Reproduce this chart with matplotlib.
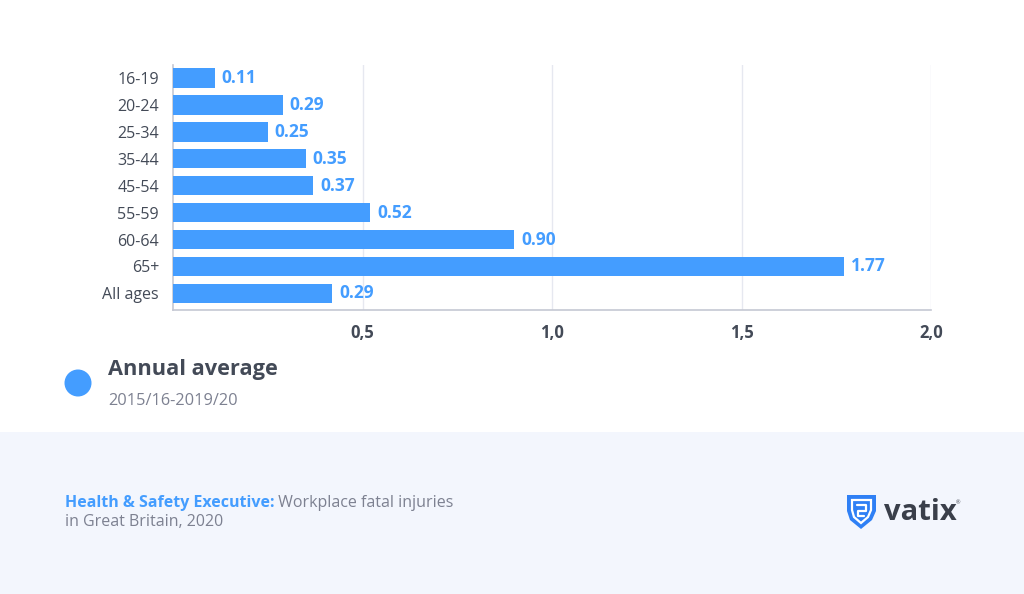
import matplotlib.pyplot as plt
import matplotlib.patches as mpatches
import numpy as np

plt.rcParams['font.family'] = ['Open Sans', 'DejaVu Sans']

# data
age_groups = ['16-19', '20-24', '25-34', '35-44', '45-54', '55-59', '60-64', '65+', 'All ages']
bar_values = [0.11, 0.29, 0.25, 0.35, 0.37, 0.52, 0.90, 1.77, 0.42]
value_labels = ['0.11', '0.29', '0.25', '0.35', '0.37', '0.52', '0.90', '1.77', '0.29']
x_ticks = [0.5, 1.0, 1.5, 2.0]
x_tick_labels = ['0,5', '1,0', '1,5', '2,0']

BLUE = '#449dff'
DARK = '#434a57'
GREY_TXT = '#7d8191'

fig = plt.figure(figsize=(10.24, 5.94), dpi=100)
fig.patch.set_facecolor('white')

# background overlay in pixel coordinates
bg = fig.add_axes([0, 0, 1, 1], zorder=0)
bg.set_xlim(0, 1024)
bg.set_ylim(594, 0)
bg.axis('off')
bg.add_patch(mpatches.Rectangle((0, 432), 1024, 162, facecolor='#f3f6fd', edgecolor='none'))

ax = fig.add_axes([173 / 1024, 1 - 310 / 594, (931 - 173) / 1024, (310 - 64.6) / 594], zorder=1)
ax.patch.set_alpha(0)
y = np.arange(len(age_groups))
bars = ax.barh(y, bar_values, height=0.72, color=BLUE, zorder=3)
ax.bar_label(bars, labels=value_labels, padding=5, color=BLUE,
             fontsize=12.5, fontweight='bold')

ax.set_xlim(0, 2.0)
ax.set_ylim(8.62, -0.5)
ax.set_yticks(y)
ax.set_yticklabels(age_groups, fontsize=11.5, color=DARK)
ax.set_xticks(x_ticks)
ax.set_xticklabels(x_tick_labels, fontsize=12, fontweight='bold', color=DARK)
ax.tick_params(axis='both', length=0)
ax.tick_params(axis='y', pad=10)
ax.tick_params(axis='x', pad=10)
ax.grid(axis='x', color='#e6e8f0', linewidth=1, zorder=0)
for side in ['top', 'right']:
    ax.spines[side].set_visible(False)
for side in ['left', 'bottom']:
    ax.spines[side].set_color('#c5c8d3')
    ax.spines[side].set_linewidth(1.2)

# legend
bg.add_patch(mpatches.Circle((78, 383), 13.5, facecolor=BLUE, edgecolor='none'))
bg.text(108, 370, 'Annual average', fontsize=15.7, fontweight='bold', color=DARK,
        va='center', ha='left')
bg.text(108, 401, '2015/16-2019/20', fontsize=11.8, color=GREY_TXT,
        va='center', ha='left')

# source
src = bg.text(65, 503, 'Health & Safety Executive:', fontsize=11.5, fontweight='bold',
              color=BLUE, va='center', ha='left')
bg.annotate(' Workplace fatal injuries', xy=(1, 0.5), xycoords=src, fontsize=11.5,
            color=GREY_TXT, va='center', ha='left')
bg.text(65, 522, 'in Great Britain, 2020', fontsize=11.5, color=GREY_TXT,
        va='center', ha='left')

# vatix logo
shield = [(847, 495), (876, 495), (876, 511), (872, 520), (861, 529),
          (850, 520), (847, 511)]
bg.add_patch(mpatches.Polygon(shield, closed=True, facecolor='#2f80f5', edgecolor='none'))
inner = [(852, 500), (871, 500), (871, 510), (868, 517), (861, 523),
         (854, 517), (852, 510)]
bg.add_patch(mpatches.Polygon(inner, closed=True, facecolor='none',
                              edgecolor='white', linewidth=1.6))
bg.plot([857, 866, 866, 858, 858, 864], [505, 505, 511, 511, 516, 516],
        color='white', linewidth=1.6, solid_capstyle='round')
bg.text(884, 512, 'vatix', fontsize=21, fontweight='bold', color='#3a3f4a',
        va='center', ha='left')
bg.text(956, 503, '®', fontsize=4, color='#3a3f4a', va='center', ha='left')

fig.savefig('out.png', dpi=100)
